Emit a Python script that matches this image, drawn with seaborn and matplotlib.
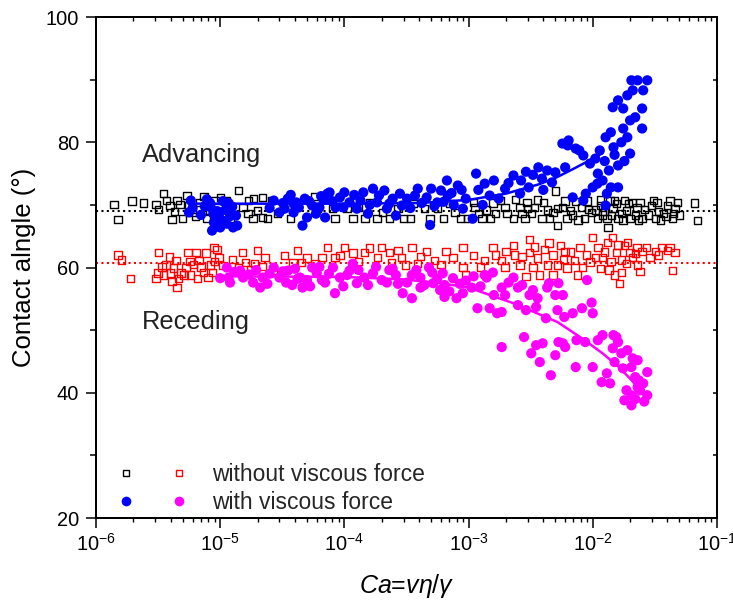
import numpy as np
import pandas as pd
import matplotlib
matplotlib.use("Agg")
import matplotlib.pyplot as plt
from matplotlib.lines import Line2D
from matplotlib.legend_handler import HandlerTuple
from matplotlib.ticker import LogLocator, MultipleLocator, NullFormatter
import seaborn as sns

# ---------------------------------------------------------------------------
# Data: capillary number Ca and measured contact angle (degrees)
# ---------------------------------------------------------------------------
# Advancing angle, without viscous force (black squares)
adv_dry_ca = [1.4e-6, 1.5e-6, 1.95e-6, 2.4e-6, 3.05e-6, 3.5e-6, 3.7e-6, 3.95e-6, 4.1e-6, 4.5e-6,
              4.75e-6, 5.0e-6, 5.4e-6, 6.0e-6, 6.3e-6, 7.4e-6, 7.8e-6, 9.1e-6, 9.6e-6, 1.13e-5,
              1.2e-5, 1.4e-5, 1.53e-5, 1.68e-5, 1.7e-5, 1.84e-5, 1.86e-5, 2.0e-5, 2.2e-5, 2.2e-5,
              2.4e-5, 2.6e-5, 2.9e-5, 3.7e-5, 5.8e-5, 6.1e-5, 8.0e-5, 8.4e-5, 1.05e-4, 1.17e-4,
              1.47e-4, 1.83e-4, 2.04e-4, 2.7e-4, 3.0e-4, 3.4e-4, 4.4e-4, 4.9e-4, 5.6e-4, 7.8e-4,
              8.6e-4, 9.8e-4, 1.1e-3, 1.13e-3, 1.28e-3, 1.4e-3, 1.57e-3, 1.65e-3, 1.8e-3, 1.97e-3,
              2.04e-3, 2.3e-3, 2.4e-3, 2.6e-3, 2.85e-3, 2.95e-3, 3.2e-3, 3.4e-3, 3.6e-3, 3.9e-3,
              4.3e-3, 4.8e-3, 5.0e-3, 5.2e-3, 5.2e-3, 5.7e-3, 6.2e-3, 6.6e-3, 7.3e-3, 8.1e-3,
              8.6e-3, 9.0e-3, 9.8e-3, 1.05e-2, 1.09e-2, 1.17e-2, 1.2e-2, 1.3e-2, 1.33e-2, 1.38e-2,
              1.46e-2, 1.55e-2, 1.6e-2, 1.7e-2, 1.8e-2, 1.87e-2, 2.0e-2, 2.1e-2, 2.2e-2, 2.27e-2,
              2.5e-2, 2.6e-2, 2.98e-2, 3.07e-2, 3.2e-2, 3.4e-2, 3.7e-2, 3.9e-2, 4.0e-2, 4.2e-2,
              4.4e-2, 4.6e-2, 4.8e-2, 5.0e-2, 6.6e-2, 7.0e-2,
              1.3e-4, 1.6e-4, 2.3e-4, 3.6e-4, 6.3e-4, 7.0e-4, 1.2e-3, 1.5e-3, 2.7e-3, 3.0e-3,
              4.0e-3, 4.5e-3, 6.0e-3, 6.9e-3, 7.6e-3, 9.3e-3, 1.15e-2, 1.25e-2, 1.42e-2, 1.5e-2,
              1.75e-2, 1.95e-2, 2.35e-2, 2.4e-2, 2.8e-2, 3.3e-2, 3.5e-2, 4.5e-2, 3.2e-6, 4.3e-6,
              5.6e-6, 6.8e-6, 8.3e-6, 1.0e-5]
adv_dry_angle = [70.1, 67.7, 70.6, 70.3, 70.1, 71.8, 70.7, 69.9, 67.7, 70.7,
                 70.1, 67.8, 71.5, 68.8, 68.1, 71.3, 67.8, 70.7, 68.1, 70.6,
                 67.9, 72.3, 69.6, 68.6, 70.7, 67.8, 71.0, 69.1, 71.2, 68.0,
                 67.8, 70.7, 68.6, 67.8, 71.3, 69.4, 69.4, 67.8, 69.4, 67.8,
                 67.8, 67.8, 68.8, 69.4, 67.8, 67.8, 69.4, 67.8, 69.4, 68.8,
                 67.8, 67.8, 70.4, 69.6, 67.8, 69.2, 70.3, 68.6, 70.7, 69.6,
                 68.6, 67.8, 70.9, 69.6, 67.8, 70.4, 68.6, 69.6, 70.8, 67.8,
                 69.2, 68.8, 72.2, 66.7, 69.4, 69.6, 67.8, 69.1, 70.5, 69.6,
                 67.8, 70.6, 68.8, 69.2, 67.8, 69.9, 68.4, 67.8, 66.4, 70.7,
                 69.4, 70.2, 67.8, 68.6, 70.7, 69.1, 67.8, 70.4, 68.3, 69.6,
                 67.8, 69.3, 69.9, 70.7, 67.8, 69.0, 68.6, 68.2, 69.9, 70.6,
                 67.8, 69.4, 70.4, 68.4, 70.3, 67.5,
                 69.6, 70.4, 67.8, 70.2, 67.8, 70.2, 68.6, 67.8, 68.6, 69.4,
                 70.4, 67.8, 70.6, 68.4, 67.6, 69.3, 70.8, 69.0, 68.3, 70.7,
                 67.6, 70.2, 67.6, 70.4, 68.4, 70.4, 67.6, 68.6, 69.3, 69.0,
                 69.8, 70.4, 69.2, 71.2]

# Receding angle, without viscous force (red squares)
rec_dry_ca = [1.5e-6, 1.6e-6, 1.9e-6, 3.05e-6, 3.15e-6, 3.2e-6, 3.5e-6, 3.65e-6, 4.0e-6, 4.2e-6,
              4.4e-6, 4.5e-6, 4.6e-6, 4.85e-6, 5.1e-6, 5.3e-6, 5.5e-6, 5.8e-6, 6.1e-6, 6.4e-6,
              6.75e-6, 7.3e-6, 7.7e-6, 8.4e-6, 8.7e-6, 8.9e-6, 9.4e-6, 9.8e-6, 1.05e-5, 1.52e-5,
              1.6e-5, 1.75e-5, 1.9e-5, 2.0e-5, 2.3e-5, 2.7e-5, 3.85e-5, 4.2e-5, 4.5e-5, 5.8e-5,
              6.6e-5, 7.3e-5, 8.4e-5, 9.2e-5, 1.0e-4, 1.17e-4, 1.46e-4, 1.84e-4, 2.0e-4, 2.3e-4,
              2.4e-4, 2.9e-4, 3.1e-4, 3.5e-4, 3.9e-4, 4.1e-4, 5.3e-4, 7.5e-4, 9.0e-4, 9.0e-4,
              9.4e-4, 1.35e-3, 1.57e-3, 1.65e-3, 1.85e-3, 1.97e-3, 2.3e-3, 2.35e-3, 2.6e-3, 3.1e-3,
              3.1e-3, 3.3e-3, 3.6e-3, 3.75e-3, 4.1e-3, 4.45e-3, 4.8e-3, 4.8e-3, 5.2e-3, 5.5e-3,
              6.0e-3, 6.2e-3, 7.5e-3, 7.9e-3, 8.9e-3, 9.5e-3, 1.0e-2, 1.1e-2, 1.15e-2, 1.2e-2,
              1.25e-2, 1.31e-2, 1.4e-2, 1.45e-2, 1.5e-2, 1.55e-2, 1.6e-2, 1.65e-2, 1.7e-2, 1.8e-2,
              1.87e-2, 2.0e-2, 2.1e-2, 2.27e-2, 2.3e-2, 2.5e-2, 2.7e-2, 3.4e-2, 3.6e-2, 4.0e-2,
              4.2e-2, 4.4e-2, 4.6e-2,
              3.4e-6, 3.9e-6, 4.1e-6, 5.7e-6, 6.6e-6, 7.0e-6, 8.0e-6, 9.0e-6, 1.25e-5, 1.4e-5,
              2.2e-5, 3.3e-5, 5.0e-5, 1.3e-4, 1.6e-4, 2.7e-4, 4.6e-4, 6.0e-4, 6.6e-4, 1.1e-3,
              1.25e-3, 2.0e-3, 2.7e-3, 2.9e-3, 3.4e-3, 4.3e-3, 5.8e-3, 6.6e-3, 7.1e-3, 8.3e-3,
              1.05e-2, 1.35e-2, 1.7e-2, 1.9e-2, 2.2e-2, 2.4e-2, 2.9e-2, 3.2e-2]
rec_dry_angle = [62.0, 61.2, 58.3, 58.3, 59.1, 62.4, 58.8, 60.4, 59.1, 59.9,
                 61.1, 56.8, 58.3, 59.1, 58.8, 60.0, 62.4, 58.8, 60.5, 62.4,
                 61.1, 59.2, 62.3, 60.4, 59.2, 63.2, 62.9, 61.6, 60.3, 62.4,
                 60.8, 59.6, 60.6, 62.7, 61.6, 59.5, 60.8, 62.7, 60.8, 60.6,
                 61.6, 63.2, 61.6, 61.9, 63.2, 62.3, 62.4, 61.6, 63.2, 62.4,
                 60.8, 61.6, 60.4, 63.2, 60.6, 61.8, 61.1, 61.6, 63.2, 60.0,
                 58.8, 61.1, 63.2, 62.0, 61.1, 60.0, 63.5, 62.0, 60.4, 64.5,
                 62.4, 60.0, 61.5, 58.8, 62.9, 63.9, 62.0, 58.8, 60.4, 63.5,
                 62.6, 59.9, 58.8, 63.2, 62.0, 60.9, 64.8, 63.2, 59.8, 61.6,
                 62.5, 64.0, 61.0, 64.8, 58.8, 62.4, 63.6, 57.5, 59.2, 63.5,
                 60.6, 62.4, 61.6, 63.2, 60.4, 62.6, 63.2, 62.0, 63.2, 62.7,
                 63.2, 59.5, 62.4,
                 60.1, 61.7, 57.8, 61.0, 58.3, 60.1, 58.4, 61.0, 61.3, 60.0,
                 60.2, 61.9, 61.5, 61.0, 63.1, 62.7, 62.6, 60.5, 62.6, 61.9,
                 60.1, 62.6, 61.8, 58.6, 63.3, 60.4, 61.3, 62.5, 61.1, 60.0,
                 61.6, 59.6, 61.2, 64.0, 62.2, 59.4, 61.6, 62.6]

# Advancing angle, with viscous force (blue dots)
adv_visc_ca = [5.6e-6, 5.8e-6, 6.0e-6, 7.5e-6, 8.3e-6, 8.4e-6, 8.6e-6, 8.8e-6, 8.9e-6, 9.1e-6,
               9.5e-6, 1.0e-5, 1.0e-5, 1.05e-5, 1.1e-5, 1.13e-5, 1.17e-5, 1.2e-5, 1.27e-5, 1.34e-5,
               1.37e-5, 2.5e-5, 2.7e-5, 3.0e-5, 3.2e-5, 3.5e-5, 3.9e-5, 3.9e-5, 4.3e-5, 4.6e-5,
               5.0e-5, 5.5e-5, 6.3e-5, 6.8e-5, 7.0e-5, 7.3e-5, 7.6e-5, 8.5e-5, 9.2e-5, 1.1e-4,
               1.26e-4, 1.35e-4, 1.42e-4, 1.55e-4, 1.7e-4, 1.83e-4, 2.2e-4, 2.45e-4, 2.6e-4, 2.9e-4,
               3.2e-4, 3.7e-4, 4.2e-4, 4.9e-4, 5.0e-4, 5.6e-4, 6.7e-4, 6.8e-4, 8.2e-4, 9.0e-4,
               1.08e-3, 1.15e-3, 1.2e-3, 1.35e-3, 1.48e-3, 1.6e-3, 1.75e-3, 1.97e-3, 2.3e-3, 2.6e-3,
               2.65e-3, 3.05e-3, 3.65e-3, 3.9e-3, 4.3e-3, 4.7e-3, 5.0e-3, 5.7e-3, 6.0e-3, 6.3e-3,
               6.4e-3, 6.9e-3, 7.3e-3, 7.8e-3, 8.4e-3, 8.4e-3, 8.8e-3, 9.5e-3, 1.0e-2, 1.05e-2,
               1.09e-2, 1.1e-2, 1.14e-2, 1.2e-2, 1.25e-2, 1.27e-2, 1.27e-2, 1.3e-2, 1.35e-2, 1.4e-2,
               1.4e-2, 1.45e-2, 1.47e-2, 1.5e-2, 1.6e-2, 1.6e-2, 1.6e-2, 1.7e-2, 1.76e-2, 1.76e-2,
               1.8e-2, 1.9e-2, 1.9e-2, 2.0e-2, 2.0e-2, 2.05e-2, 2.1e-2, 2.2e-2, 2.3e-2, 2.5e-2,
               2.5e-2, 2.55e-2, 2.75e-2,
               1.2e-4, 1.6e-4, 1.9e-4, 2.1e-4, 2.3e-4, 2.8e-4, 3.4e-4, 3.9e-4, 4.6e-4, 5.3e-4,
               6.0e-4, 6.3e-4, 7.3e-4, 7.6e-4, 8.8e-4, 9.5e-4, 1.3e-3, 2.1e-3, 2.9e-3, 4.0e-3,
               3.3e-3, 3.3e-5, 3.7e-5, 4.1e-5, 4.8e-5, 5.2e-5, 5.9e-5, 6.5e-5, 8.0e-5, 9.8e-5,
               1.0e-4, 7.0e-6, 7.8e-6, 9.8e-6, 1.08e-5, 1.25e-5]
adv_visc_angle = [68.8, 70.7, 69.5, 69.8, 70.3, 69.6, 65.9, 68.6, 67.2, 67.5,
                  69.0, 66.4, 67.8, 70.6, 69.2, 67.0, 70.3, 68.2, 66.4, 68.3,
                  66.7, 69.5, 70.7, 68.8, 70.3, 71.0, 70.2, 68.8, 69.6, 66.7,
                  68.0, 69.9, 69.6, 70.8, 68.0, 71.8, 72.0, 69.6, 71.2, 70.4,
                  69.4, 70.7, 72.0, 68.6, 72.6, 70.4, 69.4, 71.0, 68.3, 69.9,
                  71.0, 71.5, 70.3, 66.8, 72.6, 70.4, 73.9, 71.5, 73.1, 69.4,
                  67.8, 75.0, 72.4, 73.4, 71.5, 73.9, 71.0, 72.6, 74.7, 71.8,
                  73.9, 72.8, 76.0, 74.2, 75.5, 73.6, 75.2, 79.8, 76.0, 79.5,
                  80.3, 71.2, 79.0, 78.7, 77.9, 70.7, 71.8, 76.6, 72.8, 77.4,
                  73.4, 75.0, 78.7, 73.9, 77.0, 80.8, 69.9, 71.8, 75.5, 81.6,
                  72.8, 85.6, 79.2, 78.0, 86.7, 76.3, 72.8, 80.0, 82.2, 85.4,
                  77.0, 80.8, 87.5, 83.5, 78.2, 89.9, 88.3, 84.0, 89.9, 85.4,
                  82.2, 88.3, 89.9,
                  71.6, 70.0, 71.5, 72.3, 70.2, 71.8, 69.5, 72.6, 71.2, 69.8,
                  72.3, 70.5, 71.9, 70.0, 72.4, 71.0, 70.0, 73.5, 75.3, 72.4,
                  74.8, 69.4, 71.6, 70.4, 71.0, 70.6, 68.6, 71.4, 70.6, 69.6,
                  72.0, 68.4, 70.9, 68.8, 67.4, 69.7]

# Receding angle, with viscous force (magenta dots)
rec_visc_ca = [1.0e-5, 1.13e-5, 1.17e-5, 1.3e-5, 1.53e-5, 1.84e-5, 2.1e-5, 2.2e-5, 2.7e-5, 3.0e-5,
               3.4e-5, 3.5e-5, 4.0e-5, 4.4e-5, 4.6e-5, 5.0e-5, 5.5e-5, 6.0e-5, 6.6e-5, 8.1e-5,
               8.4e-5, 9.2e-5, 1.1e-4, 1.17e-4, 1.26e-4, 1.45e-4, 1.7e-4, 2.0e-4, 2.3e-4, 2.6e-4,
               2.95e-4, 3.5e-4, 3.5e-4, 4.1e-4, 4.1e-4, 4.8e-4, 5.1e-4, 5.2e-4, 6.2e-4, 6.4e-4,
               6.4e-4, 7.5e-4, 8.0e-4, 9.0e-4, 1.06e-3, 1.18e-3, 1.35e-3, 1.4e-3, 1.48e-3, 1.57e-3,
               1.7e-3, 1.85e-3, 1.85e-3, 1.85e-3, 1.97e-3, 2.3e-3, 2.5e-3, 2.5e-3, 2.7e-3, 2.8e-3,
               3.1e-3, 3.2e-3, 3.3e-3, 3.5e-3, 3.5e-3, 3.6e-3, 3.75e-3, 3.95e-3, 4.2e-3, 4.3e-3,
               4.45e-3, 4.6e-3, 5.0e-3, 5.0e-3, 5.2e-3, 5.3e-3, 5.3e-3, 5.75e-3, 5.75e-3, 5.9e-3,
               6.0e-3, 6.9e-3, 7.3e-3, 7.4e-3, 8.2e-3, 8.7e-3, 9.0e-3, 9.8e-3, 1.0e-2, 1.0e-2,
               1.1e-2, 1.18e-2, 1.2e-2, 1.3e-2, 1.38e-2, 1.45e-2, 1.47e-2, 1.5e-2, 1.55e-2, 1.6e-2,
               1.7e-2, 1.75e-2, 1.8e-2, 1.87e-2, 1.9e-2, 2.05e-2, 2.05e-2, 2.05e-2, 2.1e-2, 2.2e-2,
               2.2e-2, 2.3e-2, 2.3e-2, 2.35e-2, 2.4e-2, 2.55e-2, 2.6e-2, 2.75e-2, 2.75e-2,
               1.2e-5, 1.45e-5, 1.7e-5, 1.95e-5, 2.4e-5, 2.5e-5, 3.2e-5, 3.8e-5, 4.2e-5, 5.3e-5,
               6.3e-5, 7.0e-5, 7.5e-5, 9.8e-5, 1.05e-4, 1.3e-4, 1.55e-4, 1.8e-4, 2.2e-4, 2.45e-4,
               2.7e-4, 3.2e-4, 3.8e-4, 4.4e-4, 5.6e-4, 5.9e-4, 7.0e-4, 8.5e-4, 9.5e-4, 1.1e-3,
               1.25e-3, 2.1e-3, 2.9e-3, 1.6e-3]
rec_visc_angle = [58.3, 60.0, 58.4, 59.3, 58.4, 57.6, 56.8, 58.4, 60.0, 58.4,
                  57.6, 59.5, 59.8, 58.4, 56.8, 58.0, 60.0, 59.1, 58.0, 60.0,
                  55.9, 58.4, 59.5, 60.6, 57.5, 58.4, 59.1, 58.0, 59.6, 58.8,
                  55.9, 55.1, 58.8, 58.4, 56.8, 60.0, 59.2, 57.5, 59.1, 55.3,
                  57.2, 58.3, 55.1, 55.9, 56.8, 53.5, 58.8, 58.4, 53.5, 59.2,
                  52.7, 52.9, 56.8, 47.3, 55.6, 58.4, 54.0, 56.8, 57.2, 48.9,
                  55.6, 46.3, 56.4, 53.7, 47.6, 55.1, 44.9, 47.9, 51.9, 56.8,
                  57.5, 42.8, 55.6, 46.0, 53.2, 57.5, 48.1, 55.6, 47.9, 52.1,
                  47.3, 52.7, 44.1, 48.4, 53.5, 48.1, 58.0, 54.4, 52.7, 44.1,
                  48.4, 41.7, 49.2, 43.1, 41.5, 47.1, 49.2, 44.9, 48.9, 48.1,
                  46.3, 43.9, 38.8, 40.4, 46.8, 38.0, 39.6, 44.1, 45.5, 42.5,
                  39.0, 45.2, 40.9, 42.0, 40.4, 41.5, 38.6, 43.3, 39.6,
                  57.6, 59.5, 58.9, 59.6, 57.4, 59.0, 59.4, 57.2, 58.2, 57.0,
                  60.1, 57.6, 59.0, 57.0, 58.8, 59.6, 57.2, 60.1, 57.6, 59.8,
                  57.4, 57.6, 59.6, 57.2, 58.2, 56.4, 56.2, 57.4, 57.9, 58.6,
                  57.0, 57.6, 53.2, 55.6]

# Static reference angles (dotted lines)
adv_static_angle = 69.0
rec_static_angle = 60.8

# Fitted trends with viscous force (solid lines)
adv_fit_ca = [5.6e-6, 1e-4, 4e-4, 1e-3, 2e-3, 3.7e-3, 5e-3, 6.9e-3, 9e-3, 1.2e-2]
adv_fit_angle = [70.2, 70.2, 70.3, 70.8, 71.8, 73.3, 74.3, 75.7, 76.9, 78.3]
rec_fit_ca = [1e-5, 1e-4, 3e-4, 6e-4, 1e-3, 2.3e-3, 5.2e-3, 8.2e-3, 1.2e-2, 1.65e-2, 2.1e-2, 2.5e-2]
rec_fit_angle = [58.6, 58.5, 58.1, 57.5, 56.8, 54.3, 51.3, 48.7, 46.3, 44.0, 41.8, 39.8]

# ---------------------------------------------------------------------------
sns.set_theme(style="white")
plt.rcParams["font.family"] = ["Liberation Sans", "DejaVu Sans"]
plt.rcParams["mathtext.fontset"] = "custom"
plt.rcParams["mathtext.rm"] = "Liberation Sans"
plt.rcParams["mathtext.it"] = "Liberation Sans:italic"
plt.rcParams["axes.linewidth"] = 1.2

BLACK, RED, BLUE, MAGENTA = "#000000", "#ff0000", "#0000ff", "#ff00ff"
SQ_SIZE, DOT_SIZE = 28, 54

fig = plt.figure(figsize=(7.33, 6.05), dpi=100)
ax = fig.add_axes([0.131, 0.1438, 0.847, 0.828])

# static angles
ax.axhline(adv_static_angle, color=BLACK, lw=1.5, ls=(0, (1, 1.6)), zorder=1)
ax.axhline(rec_static_angle, color=RED, lw=1.5, ls=(0, (1, 1.6)), zorder=1)

# without viscous force (hollow squares)
sns.scatterplot(x=adv_dry_ca, y=adv_dry_angle, marker="s", s=SQ_SIZE, color="none",
                edgecolor=BLACK, linewidth=1.0, ax=ax, zorder=2, legend=False)
sns.scatterplot(x=rec_dry_ca, y=rec_dry_angle, marker="s", s=SQ_SIZE, color="none",
                edgecolor=RED, linewidth=1.0, ax=ax, zorder=2, legend=False)

# with viscous force (filled dots)
sns.scatterplot(x=adv_visc_ca, y=adv_visc_angle, marker="o", s=DOT_SIZE, color=BLUE,
                edgecolor="none", linewidth=0, ax=ax, zorder=3, legend=False)
sns.scatterplot(x=rec_visc_ca, y=rec_visc_angle, marker="o", s=DOT_SIZE, color=MAGENTA,
                edgecolor="none", linewidth=0, ax=ax, zorder=3, legend=False)

# fitted trends
sns.lineplot(x=adv_fit_ca, y=adv_fit_angle, color=BLUE, lw=1.8, ax=ax, zorder=4,
             sort=False, estimator=None)
sns.lineplot(x=rec_fit_ca, y=rec_fit_angle, color=MAGENTA, lw=1.8, ax=ax, zorder=4,
             sort=False, estimator=None)

ax.set_xscale("log")
ax.set_xlim(1e-6, 1e-1)
ax.set_ylim(20, 100)
ax.xaxis.set_major_locator(LogLocator(base=10, numticks=10))
ax.xaxis.set_minor_locator(LogLocator(base=10, subs=np.arange(2, 10), numticks=20))
ax.xaxis.set_minor_formatter(NullFormatter())
ax.yaxis.set_major_locator(MultipleLocator(20))
ax.yaxis.set_minor_locator(MultipleLocator(10))

ax.tick_params(axis="both", which="major", direction="out", length=7, width=1.1,
               labelsize=14.4, color=BLACK, labelcolor=BLACK)
ax.tick_params(axis="y", which="minor", direction="out", length=4, width=1.1, color=BLACK)
ax.tick_params(axis="x", which="minor", direction="out", length=3, width=1.0, color=BLACK)
ax.tick_params(axis="x", which="major", pad=4)
ax.tick_params(axis="y", which="major", pad=5)

# mirrored ticks on the top and right, pointing inward
ax_top = ax.twiny()
ax_top.set_xscale("log")
ax_top.set_xlim(ax.get_xlim())
ax_top.xaxis.set_major_locator(LogLocator(base=10, numticks=10))
ax_top.xaxis.set_minor_locator(LogLocator(base=10, subs=np.arange(2, 10), numticks=20))
ax_top.tick_params(axis="x", which="major", direction="in", length=7, width=1.1,
                   labeltop=False, color=BLACK)
ax_top.tick_params(axis="x", which="minor", direction="in", length=3, width=1.0,
                   labeltop=False, color=BLACK)
ax_right = ax.twinx()
ax_right.set_ylim(ax.get_ylim())
ax_right.yaxis.set_major_locator(MultipleLocator(20))
ax_right.yaxis.set_minor_locator(MultipleLocator(10))
ax_right.tick_params(axis="y", which="both", direction="in", length=3, width=1.1,
                     labelright=False, color=BLACK)
for a in (ax, ax_top, ax_right):
    for sp in a.spines.values():
        sp.set_color(BLACK)
        sp.set_linewidth(1.2)

ax.set_xlabel(r"$Ca$=$v\eta/\gamma$", fontsize=18, color=BLACK, labelpad=12)
ax.set_ylabel("Contact alngle (°)", fontsize=18.5, color=BLACK, labelpad=7)

ax.text(0.074, 0.7246, "Advancing", transform=ax.transAxes, fontsize=18.4,
        color="#222222", ha="left", va="center")
ax.text(0.074, 0.391, "Receding", transform=ax.transAxes, fontsize=18.4,
        color="#222222", ha="left", va="center")

# legend: two marker columns per row
h_black = Line2D([], [], ls="none", marker="s", markersize=np.sqrt(SQ_SIZE) * 0.85,
                 markerfacecolor="none", markeredgecolor=BLACK, markeredgewidth=1.0)
h_red = Line2D([], [], ls="none", marker="s", markersize=np.sqrt(SQ_SIZE) * 0.85,
               markerfacecolor="none", markeredgecolor=RED, markeredgewidth=1.0)
h_blue = Line2D([], [], ls="none", marker="o", markersize=np.sqrt(DOT_SIZE) * 0.95,
                markerfacecolor=BLUE, markeredgecolor="none")
h_mag = Line2D([], [], ls="none", marker="o", markersize=np.sqrt(DOT_SIZE) * 0.95,
               markerfacecolor=MAGENTA, markeredgecolor="none")
ax.legend([(h_black, h_red), (h_blue, h_mag)],
          ["without viscous force", "with viscous force"],
          handler_map={tuple: HandlerTuple(ndivide=None, pad=0)},
          loc="lower left", bbox_to_anchor=(0.0056, 0.008), borderaxespad=0,
          borderpad=0, frameon=False, fontsize=16.5, handlelength=4.63,
          handletextpad=0.28, labelspacing=0.2, numpoints=1)

fig.savefig("out.png", dpi=100)
